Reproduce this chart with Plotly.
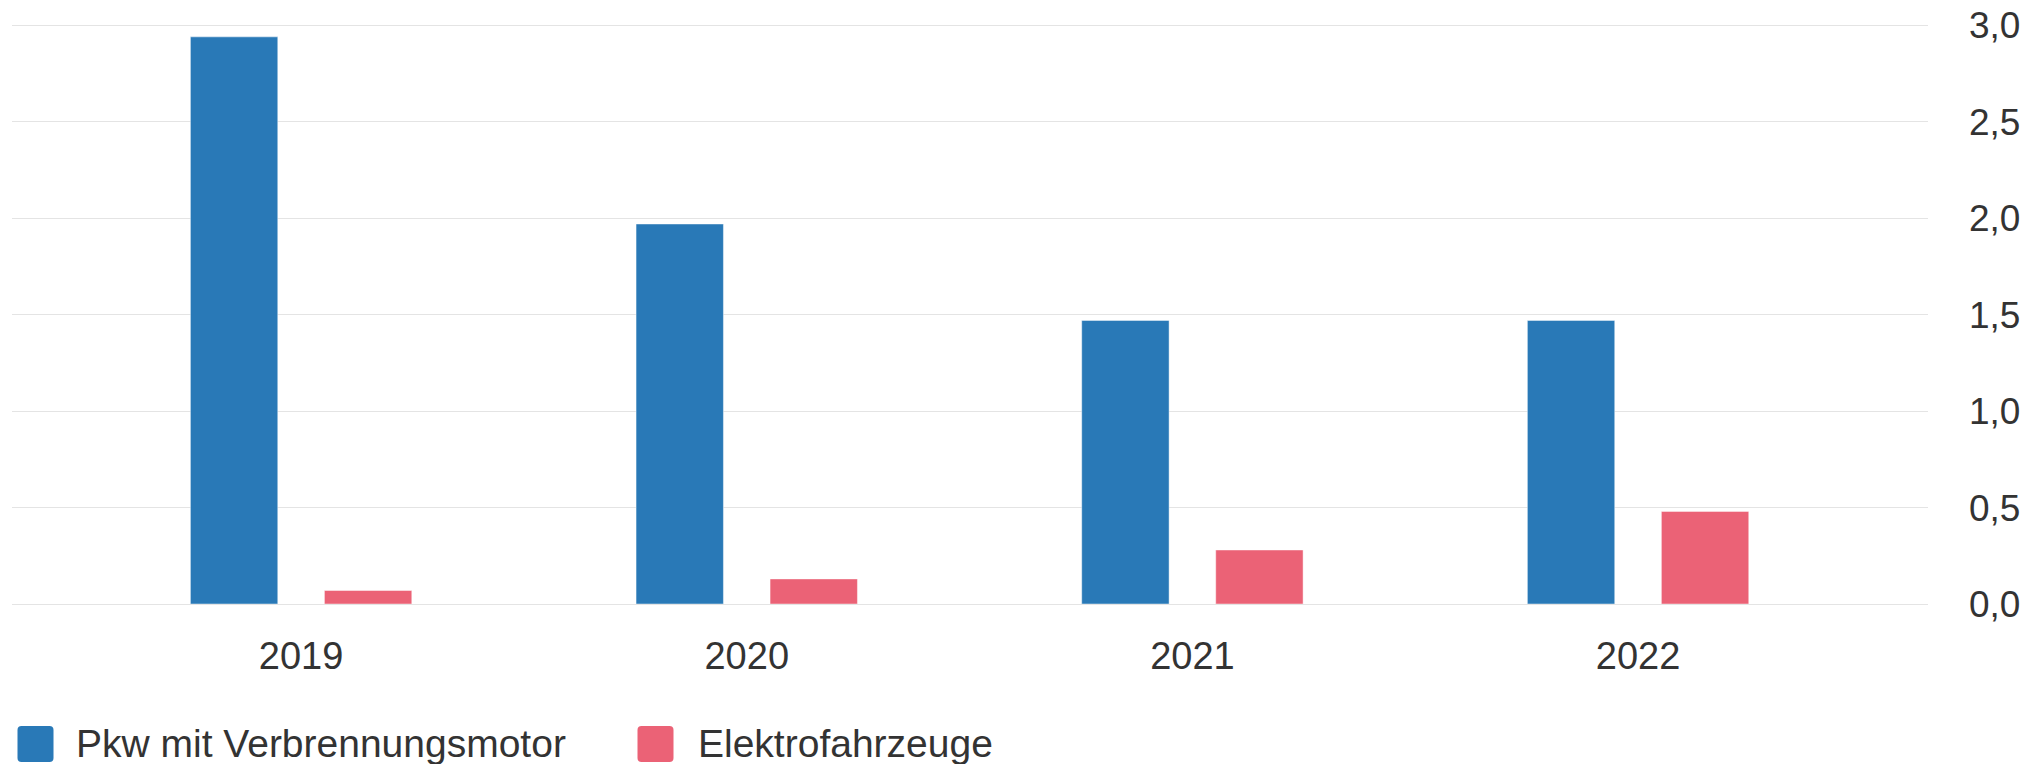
import plotly.graph_objects as go

# ---- data ----
years = ["2019", "2020", "2021", "2022"]
pkw_verbrenner = [2.94, 1.97, 1.47, 1.47]
elektro = [0.07, 0.13, 0.28, 0.48]
series_names = ["Pkw mit Verbrennungsmotor", "Elektrofahrzeuge"]
y_ticks = [0.0, 0.5, 1.0, 1.5, 2.0, 2.5, 3.0]

# ---- style ----
BLUE = "#2979b7"
RED = "#eb6276"
TEXT = "#333333"
GRID = "#e4e4e4"
FONT = "Liberation Sans, Arial, sans-serif"

W, H = 2029, 764
ML, MR, MT, MB = 12, 101, 16, 160
PW = W - ML - MR
PH = H - MT - MB
PX_PER_UNIT = 192.9  # vertical pixels per unit (0 at y=604, 3.0 at y=25.3)
Y_TOP = PH / PX_PER_UNIT


def px_x(px):
    return (px - ML) / PW


def px_y(py):
    return (H - MB - py) / PH


def rounded_rect_path(x0, y0, x1, y1, r):
    def P(x, y):
        return f"{px_x(x):.6f},{px_y(y):.6f}"
    return (f"M{P(x0 + r, y0)} L{P(x1 - r, y0)} Q{P(x1, y0)} {P(x1, y0 + r)} "
            f"L{P(x1, y1 - r)} Q{P(x1, y1)} {P(x1 - r, y1)} "
            f"L{P(x0 + r, y1)} Q{P(x0, y1)} {P(x0, y1 - r)} "
            f"L{P(x0, y0 + r)} Q{P(x0, y0)} {P(x0 + r, y0)} Z")


fig = go.Figure()
for name, vals, col in [(series_names[0], pkw_verbrenner, BLUE), (series_names[1], elektro, RED)]:
    fig.add_trace(go.Bar(
        x=years, y=vals, name=name, showlegend=False,
        marker=dict(color=col, line=dict(color="rgba(255,255,255,0.45)", width=1)),
        hoverinfo="x+y",
    ))

# custom legend (large rounded squares like the reference)
shapes = []
annotations = []
legend_items = [(series_names[0], BLUE, 17.5, 74), (series_names[1], RED, 637.5, 696)]
for name, col, sx, tx in legend_items:
    shapes.append(dict(type="path", xref="paper", yref="paper",
                       path=rounded_rect_path(sx, 726, sx + 36, 762, 4),
                       fillcolor=col, line=dict(width=0), layer="above"))
    annotations.append(dict(xref="paper", yref="paper", x=px_x(tx), y=px_y(743), text=name,
                            showarrow=False, xanchor="left", yanchor="middle",
                            font=dict(family=FONT, size=39, color=TEXT)))

fig.update_layout(
    width=W, height=H,
    margin=dict(l=ML, r=MR, t=MT, b=MB, pad=0, autoexpand=False),
    paper_bgcolor="white", plot_bgcolor="white",
    barmode="group", bargap=0.3986, bargroupgap=0.348,
    separators=",.",
    font=dict(family=FONT, size=38, color=TEXT),
    shapes=shapes, annotations=annotations,
    showlegend=False,
)
fig.update_xaxes(
    type="category", range=[-0.6487, 3.6506], automargin=False,
    showgrid=False, showline=False, ticks="",
    tickfont=dict(family=FONT, size=38, color=TEXT),
    ticklabelstandoff=26,
)
fig.update_yaxes(
    side="right", range=[0, Y_TOP], tickvals=y_ticks, tickformat=".1f", automargin=False,
    showgrid=True, gridcolor=GRID, gridwidth=1,
    zeroline=True, zerolinecolor=GRID, zerolinewidth=1,
    showline=False, ticks="",
    tickfont=dict(family=FONT, size=37, color=TEXT),
    ticklabelstandoff=40,
)

fig.write_html("out.html", config={"displayModeBar": False},
               post_script="document.body.style.margin='0';document.body.style.overflow='hidden';")
